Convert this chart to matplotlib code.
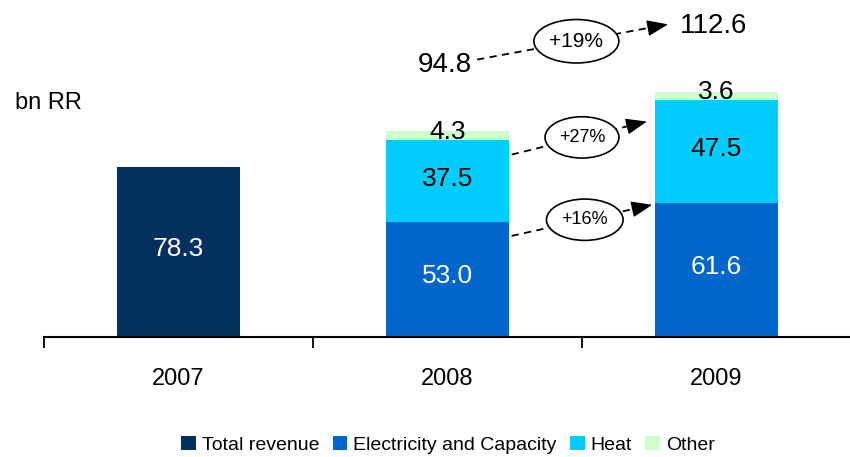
import matplotlib.pyplot as plt
from matplotlib.patches import Ellipse
from matplotlib import font_manager

# Data
years = ["2007", "2008", "2009"]
total_revenue = [78.3, 0, 0]
electricity = [0, 53.0, 61.6]
heat = [0, 37.5, 47.5]
other = [0, 4.3, 3.6]
totals = [78.3, 94.8, 112.6]

col_total = "#02305F"
col_elec = "#0066CC"
col_heat = "#00CCFF"
col_other = "#CCFFCC"

names = {f.name for f in font_manager.fontManager.ttflist}
fam = "Liberation Sans Narrow" if "Liberation Sans Narrow" in names else "Liberation Sans"
plt.rcParams["font.family"] = [fam, "DejaVu Sans"]

fig = plt.figure(figsize=(8.5, 4.57), dpi=100)
ax = fig.add_axes([0.052, 0.2626, 0.949, 0.7374])

x = list(range(len(years)))
w = 0.457

ax.bar(x, total_revenue, w, color=col_total, label="Total revenue")
ax.bar(x, electricity, w, color=col_elec, label="Electricity and Capacity")
heat_bottom = electricity
ax.bar(x, heat, w, bottom=heat_bottom, color=col_heat, label="Heat")
other_bottom = [e + h for e, h in zip(electricity, heat)]
ax.bar(x, other, w, bottom=other_bottom, color=col_other, label="Other")

fs = 19
ax.text(0, total_revenue[0] / 2 + 1.5, f"{total_revenue[0]:.1f}", ha="center", va="center",
        color="white", fontsize=fs)
for i in (1, 2):
    ax.text(i, electricity[i] / 2 + 1.5, f"{electricity[i]:.1f}", ha="center", va="center",
            color="white", fontsize=fs)
    ax.text(i, electricity[i] + heat[i] / 2 + 1, f"{heat[i]:.1f}", ha="center", va="center",
            color="black", fontsize=fs)
    ax.text(i, other_bottom[i] + other[i] / 2 + 1.8, f"{other[i]:.1f}", ha="center", va="center",
            color="black", fontsize=fs)
    # totals above
    ax.text(i - 0.01, totals[i] + 30.5, f"{totals[i]:.1f}", ha="center", va="center",
            color="black", fontsize=20)


def growth_arrow(x0, y0, x1, y1, label, size, ew, eh):
    # dashed shaft, solid filled head
    f = 0.9
    xm = x0 + (x1 - x0) * f
    ym = y0 + (y1 - y0) * f
    ax.plot([x0, xm], [y0, ym], color="black", lw=1.3, linestyle=(0, (4, 3)), zorder=3)
    ax.annotate("", xy=(x1, y1), xytext=(xm, ym),
                arrowprops=dict(arrowstyle="-|>,head_length=1.3,head_width=0.5",
                                color="black", lw=1.0, shrinkA=0, shrinkB=0), zorder=3)
    cx = x0 + (x1 - x0) * 0.52
    cy = y0 + (y1 - y0) * 0.52
    ax.add_patch(Ellipse((cx, cy), ew, eh, facecolor="white", edgecolor="black",
                         lw=1.2, zorder=4))
    ax.text(cx, cy, label, ha="center", va="center", fontsize=size, zorder=5)


right1 = 1 + w / 2
left2 = 2 - w / 2
# electricity
g = round((electricity[2] / electricity[1] - 1) * 100)
growth_arrow(right1 + 0.01, electricity[1] - 6.5, left2 - 0.01, electricity[2] - 0.8,
             f"+{g}%", 13, 0.285, 19)
# heat
g = round((heat[2] / heat[1] - 1) * 100)
growth_arrow(right1 + 0.01, other_bottom[1] - 6.6, left2 - 0.03, other_bottom[2] - 10,
             f"+{g}%", 13, 0.275, 19)
# total
g = round((totals[2] / totals[1] - 1) * 100)
growth_arrow(1.11, totals[1] + 32.8, 1.82, totals[2] + 31.2, f"+{g}%", 15, 0.316, 20)

ax.set_xlim(-0.5, 2.5)
ax.set_ylim(0, 155)
ax.set_xticks(x)
ax.set_xticklabels(years, fontsize=17)
ax.set_xticks([-0.5, 0.5, 1.5, 2.5], minor=True)
ax.tick_params(axis="x", which="major", length=0, pad=22)
ax.tick_params(axis="x", which="minor", length=8, width=1.3, direction="out")
ax.set_yticks([])
for s in ("left", "right", "top"):
    ax.spines[s].set_visible(False)
ax.spines["bottom"].set_linewidth(1.5)

fig.text(15 / 850, 1 - 103 / 457, "bn RR", ha="left", va="center", fontsize=17)

fig.legend(loc="center", bbox_to_anchor=(0.527, 1 - 445 / 457), ncol=4, frameon=False,
           fontsize=14, handlelength=0.75, handleheight=0.75, handletextpad=0.3,
           columnspacing=0.7, borderpad=0)

fig.savefig("out.png", dpi=100)
